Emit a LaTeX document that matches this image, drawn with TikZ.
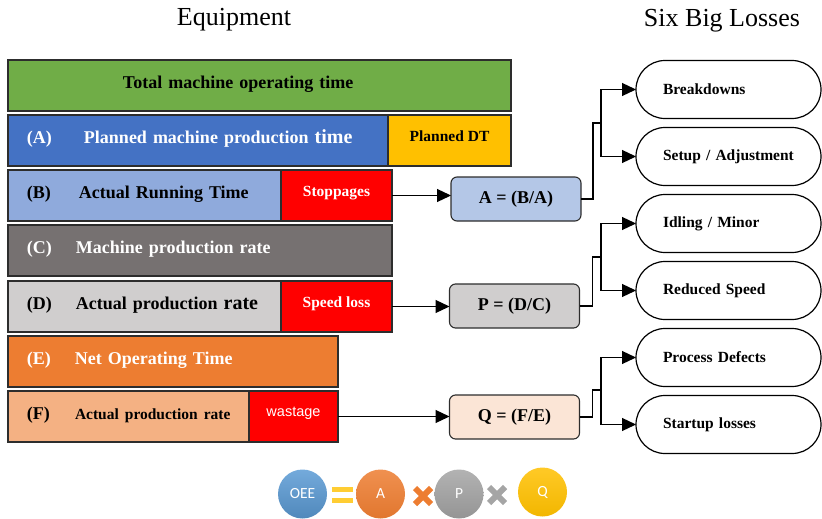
\documentclass[tikz,border=0pt]{standalone}
\usepackage{fontspec}
\setmainfont{Liberation Serif}
\setsansfont{Liberation Sans}
\newfontfamily\calibri{Carlito}
\usetikzlibrary{arrows.meta,positioning}
\definecolor{barline}{RGB}{45,45,45}
\definecolor{cTotal}{HTML}{70AD47}
\definecolor{cPlan}{HTML}{4472C4}
\definecolor{cYellow}{HTML}{FFC000}
\definecolor{cRun}{HTML}{8FAADC}
\definecolor{cRed}{HTML}{FF0000}
\definecolor{cRate}{HTML}{767171}
\definecolor{cActual}{HTML}{D0CECE}
\definecolor{cNet}{HTML}{ED7D31}
\definecolor{cFinal}{HTML}{F4B183}
\definecolor{cRatA}{HTML}{B4C7E7}
\definecolor{cRatQ}{HTML}{FBE5D6}
\definecolor{cGrayX}{HTML}{A5A5A5}
\definecolor{cOEE}{HTML}{5B9BD5}
\newcommand{\barsize}{\fontsize{18}{21}\selectfont}
\newcommand{\tagsize}{\fontsize{15.5}{18}\selectfont}

\begin{document}
\begin{tikzpicture}[
  x=1pt, y=-1pt,
  every node/.style={align=center, outer sep=0pt},
  bar/.style={draw=barline, line width=1.1pt, anchor=north west, minimum height=51pt, inner xsep=19pt, text depth=7pt, align=left, font=\bfseries\barsize},
  tagbox/.style={draw=barline, line width=1.1pt, minimum height=51pt, text depth=9pt, font=\bfseries\tagsize},
  ratio/.style={draw=barline, line width=1.1pt, rounded corners=6pt, minimum width=130pt, minimum height=44pt, font=\bfseries\barsize},
  lossPill/.style={draw, line width=1.2pt, rounded corners=29pt, minimum width=185pt, minimum height=58pt, inner xsep=27pt, text width=131pt, align=left, font=\bfseries\tagsize},
  circ/.style={circle, minimum size=49pt, inner sep=0pt, text=white, font=\calibri\fontsize{15.5}{17}\selectfont},
  heading/.style={font=\fontsize{26}{30}\selectfont},
  link/.style={line width=1.2pt},
  arr/.style={-{Triangle[length=14pt,width=13pt]}, line width=1.2pt}
]
\useasboundingbox (0,0) rectangle (822,519);

% headings
\node[heading] (eqTitle) at (234,20) {Equipment};
\node[heading] (lossTitle) at (722,21) {Six Big Losses};

% time bars
\node[bar, fill=cTotal, minimum width=503pt, text width=465pt] (total) at (8,60) {\hspace*{96pt}Total machine operating time};
\node[bar, fill=cPlan, text=white, minimum width=380pt, text width=342pt] (bA) at (8,115) {\makebox[57pt][l]{(A)}Planned machine production {\fontsize{20}{21}\selectfont time}};
\node[tagbox, fill=cYellow, minimum width=123pt, right=0pt of bA] (pdt) {Planned DT};
\node[bar, fill=cRun, minimum width=273pt, text width=235pt] (bB) at (8,170) {\makebox[52pt][l]{(B)}Actual Running Time};
\node[tagbox, fill=cRed, text=white, minimum width=111pt, right=0pt of bB] (stop) {Stoppages};
\node[bar, fill=cRate, text=white, minimum width=384pt, text width=346pt] (bC) at (8,225) {\makebox[49pt][l]{(C)}Machine production rate};
\node[bar, fill=cActual, minimum width=273pt, text width=235pt] (bD) at (8,281) {\mbox{\makebox[49pt][l]{(D)}Actual production {\fontsize{20}{21}\selectfont rate}}};
\node[tagbox, fill=cRed, text=white, minimum width=111pt, right=0pt of bD] (speed) {Speed loss};
\node[bar, fill=cNet, text=white, minimum width=330pt, text width=292pt] (bE) at (8,336) {\makebox[48pt][l]{(E)}Net Operating Time};
\node[bar, fill=cFinal, minimum width=241pt, text width=203pt] (bF) at (8,391) {\mbox{\makebox[48pt][l]{(F)}\tagsize Actual production rate}};
\node[tagbox, fill=cRed, text=white, minimum width=89pt, right=0pt of bF, font=\sffamily\fontsize{14.5}{17}\selectfont] (waste) {wastage};

% ratios
\node[ratio, fill=cRatA] (ratA) at (516,199) {A = (B/A)};
\node[ratio, fill=cActual] (ratP) at (514.5,306) {P = (D/C)};
\node[ratio, fill=cRatQ] (ratQ) at (514.5,417) {Q = (F/E)};

% six big losses
\node[lossPill] (brk) at (728.5,89.5) {Breakdowns};
\node[lossPill, below=9pt of brk] (setup) {Setup / Adjustment};
\node[lossPill, below=9pt of setup] (idle) {Idling / Minor};
\node[lossPill, below=9pt of idle] (slow) {Reduced Speed};
\node[lossPill, below=9pt of slow] (defect) {Process Defects};
\node[lossPill, below=9pt of defect] (startup) {Startup losses};

\coordinate (forkA) at (601,123);
\coordinate (forkP) at (601,257);
\coordinate (forkQ) at (601,390);

\draw[arr] (stop.east) -- (stop.east -| ratA.west);
\draw[arr] (speed.east) -- (speed.east -| ratP.west);
\draw[arr] (waste.east) -- (waste.east -| ratQ.west);

\draw[link] (ratA.east) -- ++(12,0) |- (forkA);
\draw[arr] (forkA) |- (brk.west);
\draw[arr] (forkA) |- (setup.west);
\draw[link] (ratP.east) -- ++(13,0) |- (forkP);
\draw[arr] (forkP) |- (idle.west);
\draw[arr] (forkP) |- (slow.west);
\draw[link] (ratQ.east) -- ++(13,0) |- (forkQ);
\draw[arr] (forkQ) |- (defect.west);
\draw[arr] (forkQ) |- (startup.west);

% OEE = A x P x Q
\node[circ, top color=cOEE!85!white, bottom color=cOEE!88!black] (oee) at (302.5,494) {OEE};
\node[circ, top color=cNet!85!white, bottom color=cNet!95!black] (circA) at (380.5,494) {A};
\node[circ, top color=cGrayX!85!white, bottom color=cGrayX!90!black] (circP) at (459,494) {P};
\node[circ, top color=cYellow!85!white, bottom color=cYellow!95!black] (circQ) at (542.5,492) {Q};
\fill[cYellow!80] (332,487) rectangle (353,492);
\fill[cYellow!80] (332,498) rectangle (353,503);
\draw[cNet, line width=6pt] (415,488) -- (431,504) (415,504) -- (431,488);
\draw[cGrayX, line width=6pt] (489,487) -- (505,503) (489,503) -- (505,487);
\end{tikzpicture}
\end{document}
